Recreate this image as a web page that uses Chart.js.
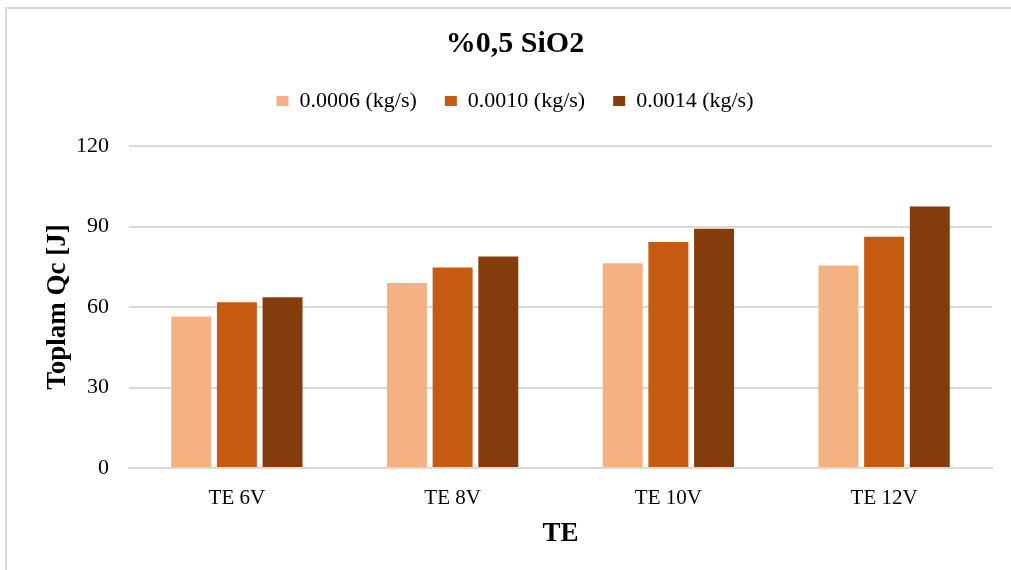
<!DOCTYPE html>
<html>
<head>
<meta charset="utf-8">
<script src="https://cdn.jsdelivr.net/npm/chart.js@4/dist/chart.umd.min.js"></script>
<style>
  html, body { margin: 0; padding: 0; background: #fff; }
  #wrap { position: relative; width: 1011px; height: 570px; }
  #frame { position: absolute; left: 5px; top: 7px; right: 0; bottom: 0;
           border-left: 2px solid #d9d9d9; border-top: 2px solid #d9d9d9; pointer-events: none; }
  canvas { position: absolute; left: 0; top: 0; }
</style>
</head>
<body>
<div id="wrap">
  <canvas id="chart" width="1011" height="570"></canvas>
  <div id="frame"></div>
</div>
<script>
const categories = ["TE 6V", "TE 8V", "TE 10V", "TE 12V"];
const seriesNames = ["0.0006 (kg/s)", "0.0010 (kg/s)", "0.0014 (kg/s)"];
const flow0006 = [56.5, 68.9, 76.3, 75.5];
const flow0010 = [61.8, 74.7, 84.2, 86.2];
const flow0014 = [63.6, 78.8, 89.2, 97.5];
const yTicks = [0, 30, 60, 90, 120];

const colors = ["#F4B183", "#C55A11", "#843C0C"];
const serif = "'Liberation Serif', 'Times New Roman', serif";

// legend gets a fixed height so the plot starts where the original one does
const legendHeight = {
    id: "legendHeight",
    afterInit(chart) {
        const fit = chart.legend.fit;
        chart.legend.fit = function () {
            fit.call(this);
            this.height = 84;
        };
    }
};

document.addEventListener("DOMContentLoaded", function () {
    const ctx = document.getElementById("chart").getContext("2d");

    new Chart(ctx, {
        type: "bar",
        data: {
            labels: categories,
            datasets: [flow0006, flow0010, flow0014].map((values, i) => ({
                label: seriesNames[i],
                data: values,
                backgroundColor: colors[i],
                categoryPercentage: 0.635,
                barPercentage: 0.875
            }))
        },
        plugins: [legendHeight],
        options: {
            responsive: false,
            animation: false,
            layout: { padding: { left: 38, right: 19, top: 0, bottom: 20 } },
            plugins: {
                tooltip: { enabled: false },
                title: {
                    display: true,
                    text: "%0,5 SiO2",
                    color: "#000",
                    font: { family: serif, size: 30, weight: "bold" },
                    padding: { top: 26, bottom: 0 }
                },
                legend: {
                    position: "top",
                    labels: {
                        color: "#000",
                        font: { family: serif, size: 22 },
                        boxWidth: 12,
                        boxHeight: 10,
                        padding: 28
                    }
                }
            },
            scales: {
                x: {
                    grid: { display: false },
                    border: { display: true, color: "#d9d9d9", width: 2 },
                    ticks: { color: "#000", font: { family: serif, size: 21 }, padding: 10 },
                    title: {
                        display: true,
                        text: "TE",
                        color: "#000",
                        font: { family: serif, size: 27, weight: "bold" },
                        padding: { top: 0, bottom: 0 }
                    },
                    afterFit: scale => { scale.height = 82; }
                },
                y: {
                    min: 0,
                    max: 120,
                    afterBuildTicks: scale => { scale.ticks = yTicks.map(v => ({ value: v })); },
                    grid: { color: "#d9d9d9", lineWidth: 2, drawTicks: false },
                    border: { display: false },
                    ticks: { color: "#000", font: { family: serif, size: 22 }, padding: 20 },
                    title: {
                        display: true,
                        text: "Toplam Qc [J]",
                        color: "#000",
                        font: { family: serif, size: 27, weight: "bold" },
                        padding: { bottom: 0 }
                    },
                    afterFit: scale => { scale.width = 91; }
                }
            }
        }
    });
});
</script>
</body>
</html>
